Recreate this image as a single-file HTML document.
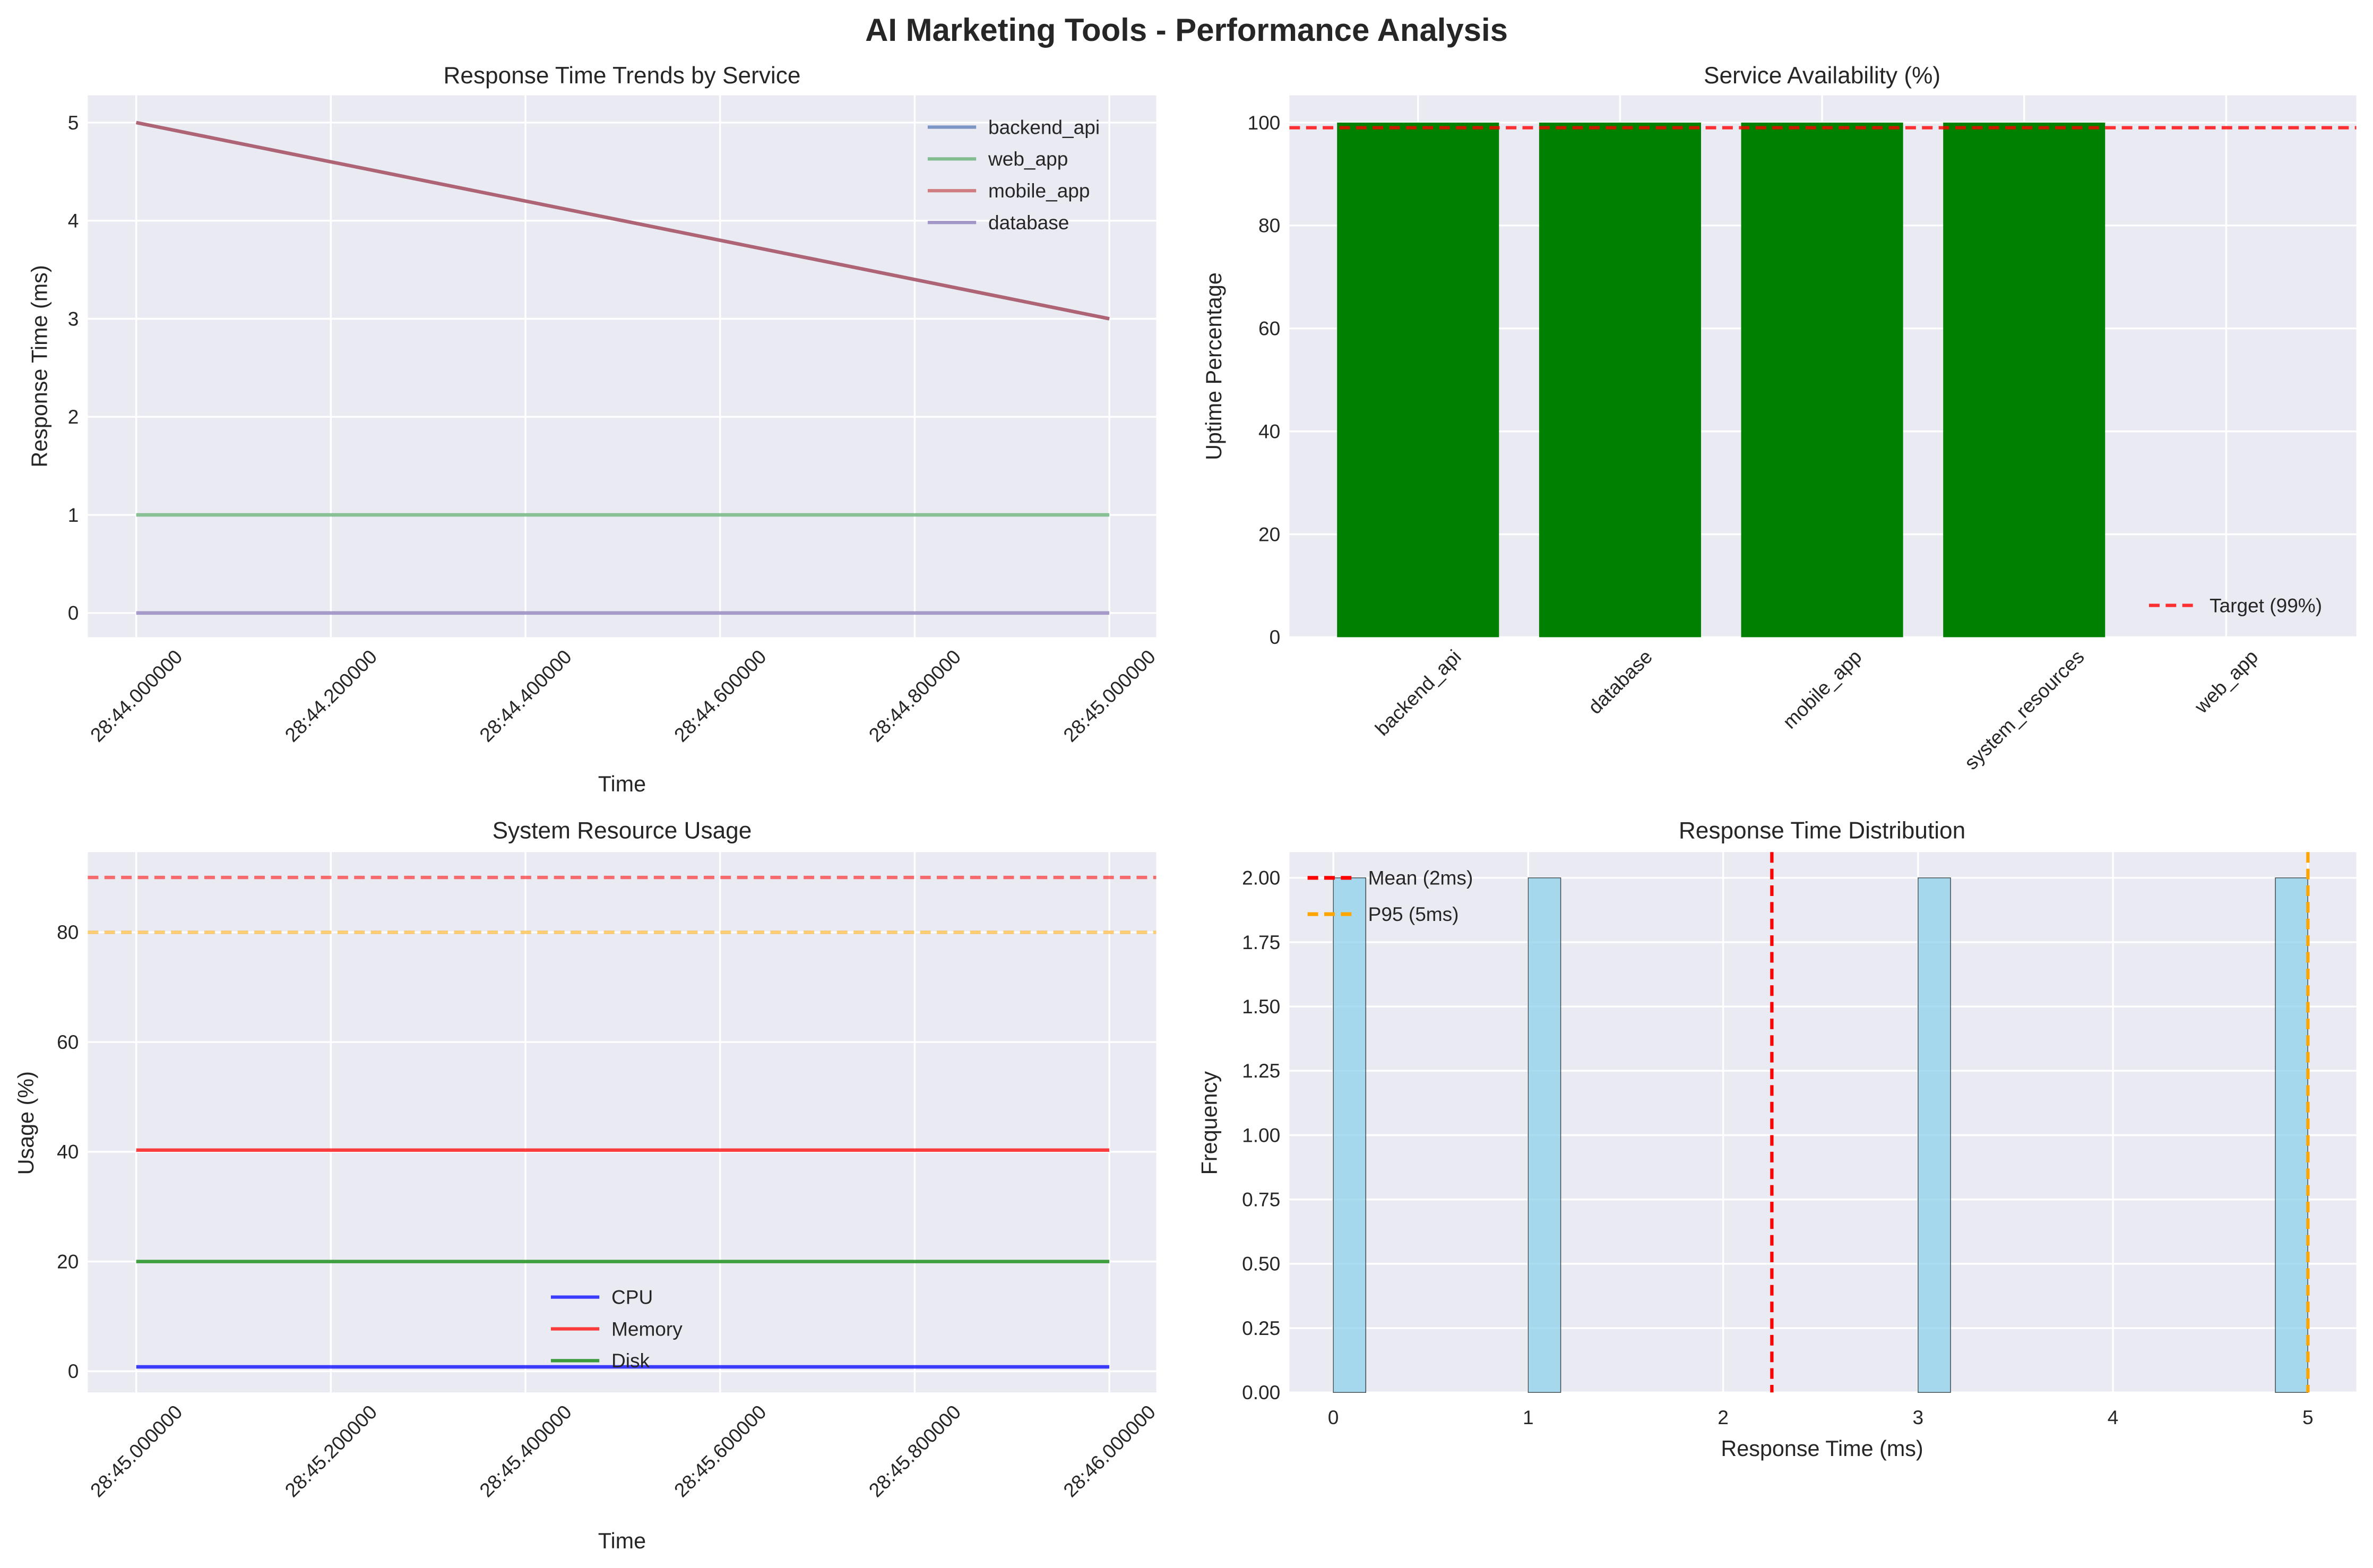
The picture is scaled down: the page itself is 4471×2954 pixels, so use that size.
<!DOCTYPE html>
<html><head><meta charset="utf-8"><style>
html,body{margin:0;padding:0;background:#fff;}
svg{display:block;font-family:"Liberation Sans",sans-serif;}
</style></head><body>
<svg id="fig" width="4471" height="2954" viewBox="0 0 1568 1036" xmlns="http://www.w3.org/2000/svg">
<text x="784" y="27" text-anchor="middle" font-size="21" font-weight="bold" fill="#262626">AI Marketing Tools - Performance Analysis</text>
</svg>
<script>
// ---- Panel 1 data
const p1TickLabels = ["28:44.000000","28:44.200000","28:44.400000","28:44.600000","28:44.800000","28:45.000000"];
const p1Times = [0, 1];
const p1Backend = [5, 3];
const p1Web = [1, 1];
const p1Mobile = [5, 3];
const p1Database = [0, 0];
const p1YTicks = [0,1,2,3,4,5];
// ---- Panel 2 data
const p2Categories = ["backend_api","database","mobile_app","system_resources","web_app"];
const p2Uptime = [100,100,100,100,0];
const p2Target = [99];
const p2YTicks = [0,20,40,60,80,100];
// ---- Panel 3 data
const p3TickLabels = ["28:45.000000","28:45.200000","28:45.400000","28:45.600000","28:45.800000","28:46.000000"];
const p3Times = [0, 1];
const p3Cpu = [0.8, 0.8];
const p3Memory = [40.3, 40.3];
const p3Disk = [20, 20];
const p3Thresholds = [90, 80];
const p3YTicks = [0,20,40,60,80];
// ---- Panel 4 data
const p4BinStarts = [0, 1, 3, 4.833];
const p4Counts = [2, 2, 2, 2];
const p4BinWidth = [0.1667];
const p4Mean = [2.25];
const p4P95 = [5];
const p4XTicks = [0,1,2,3,4,5];
const p4YTicks = [0,0.25,0.5,0.75,1,1.25,1.5,1.75,2];

const NS="http://www.w3.org/2000/svg";
const svg=document.getElementById('fig');
function mk(tag,attrs,parent,text){const e=document.createElementNS(NS,tag);for(const k in attrs)e.setAttribute(k,attrs[k]);if(text!==undefined)e.textContent=text;(parent||svg).appendChild(e);return e;}
function lin(d0,d1,r0,r1){return v=>r0+(v-d0)/(d1-d0)*(r1-r0);}
const TXT="#262626";

function axesBg(x0,y0,x1,y1,name){
  const g=mk('g',{});
  
  
  const r=mk('rect',{x:x0,y:y0,width:x1-x0,height:y1-y0,fill:"#eaeaf2"},g);
  
  
  return g;
}
function grid(g,x0,y0,x1,y1,xs,ys){
  xs.forEach(x=>{const l=mk('line',{x1:x,x2:x,y1:y0,y2:y1,stroke:"#fff","stroke-width":1.2},g);});
  ys.forEach(y=>{const l=mk('line',{x1:x0,x2:x1,y1:y,y2:y,stroke:"#fff","stroke-width":1.2},g);});
}
function ytick(g,x,y,label){const t=mk('text',{x:x,y:y+4.5,"text-anchor":"end","font-size":13,fill:TXT},g,label);}
function rotTick(g,x,y,label){
  const t=mk('text',{x:0,y:4.5,"text-anchor":"middle","font-size":13,fill:TXT},g,label);
  
  
  const w=t.getComputedTextLength();
  const half=(w*0.7071+13*0.7071)/2;
  t.setAttribute('transform',`translate(${x},${y+half}) rotate(-45)`);
}
function title(x,y,s){const t=mk('text',{x:x,y:y,"text-anchor":"middle","font-size":15.5,fill:TXT},svg,s);}
function xlabel(x,y,s){const t=mk('text',{x:x,y:y,"text-anchor":"middle","font-size":14.5,fill:TXT},svg,s);}
function ylabel(x,y,s){const t=mk('text',{x:0,y:0,"text-anchor":"middle","font-size":14.5,fill:TXT,transform:`translate(${x},${y}) rotate(-90)`},svg,s);}
function polyline(g,xs,ys,color,op,w,dash,name){const pts=xs.map((x,i)=>x+','+ys[i]).join(' ');const p=mk('polyline',{points:pts,fill:"none",stroke:color,"stroke-opacity":op,"stroke-width":w,"stroke-dasharray":dash||"none"},g);return p;}
function legendEntry(g,x,y,color,op,dash,label,w){const l=mk('line',{x1:x,x2:x+32,y1:y,y2:y,stroke:color,"stroke-opacity":op,"stroke-width":w||2.2,"stroke-dasharray":dash||"none"},g);const t=mk('text',{x:x+40,y:y+4.5,"font-size":13,fill:TXT},g,label);}

// ===== Panel 1
(function(){
  const x0=58,x1=764,y0=63,y1=421;
  const X=lin(0,1,90,733), Y=lin(0,5,405,81);
  const g=axesBg(x0,y0,x1,y1,'response-trend-axes');
  const tx=p1TickLabels.map((_,i)=>X(i/(p1TickLabels.length-1)));
  grid(g,x0,y0,x1,y1,tx,p1YTicks.map(Y));
  p1YTicks.forEach(v=>ytick(svg,x0-6,Y(v),String(v)));
  p1TickLabels.forEach((s,i)=>rotTick(svg,tx[i],y1+6,s));
  const xs=p1Times.map(X);
  polyline(g,xs,p1Backend.map(Y),"#4c72b0",0.7,2.3,null,'line-backend-api');
  polyline(g,xs,p1Web.map(Y),"#55a868",0.7,2.3,null,'line-web-app');
  polyline(g,xs,p1Mobile.map(Y),"#c44e52",0.7,2.3,null,'line-mobile-app');
  polyline(g,xs,p1Database.map(Y),"#8172b3",0.7,2.3,null,'line-database');
  const lg=mk('g',{});
  legendEntry(lg,613,84,"#4c72b0",0.7,null,"backend_api");
  legendEntry(lg,613,105,"#55a868",0.7,null,"web_app");
  legendEntry(lg,613,126,"#c44e52",0.7,null,"mobile_app");
  legendEntry(lg,613,147,"#8172b3",0.7,null,"database");
  title(411,55,"Response Time Trends by Service");
  xlabel(411,523,"Time");
  ylabel(31,242,"Response Time (ms)");
})();

// ===== Panel 2
(function(){
  const x0=852,x1=1557,y0=63,y1=421;
  const Y=lin(0,100,421,81);
  const X=i=>937+i*133.5, bw=107;
  const g=axesBg(x0,y0,x1,y1,'availability-axes');
  grid(g,x0,y0,x1,y1,p2Categories.map((_,i)=>X(i)),p2YTicks.map(Y));
  p2YTicks.forEach(v=>ytick(svg,x0-6,Y(v),String(v)));
  p2Categories.forEach((c,i)=>{
    const v=p2Uptime[i];
    const r=mk('rect',{x:X(i)-bw/2,y:Y(v),width:bw,height:Y(0)-Y(v),fill:"#008000"},g);
    
    
    rotTick(svg,X(i),y1+6,c);
  });
  polyline(g,[x0,x1],[Y(p2Target[0]),Y(p2Target[0])],"#ff0000",0.8,2.2,"7,4",'target-line');
  const lg=mk('g',{});
  legendEntry(lg,1420,400,"#ff0000",0.8,"7,4","Target (99%)");
  title(1204,55,"Service Availability (%)");
  ylabel(807,242,"Uptime Percentage");
})();

// ===== Panel 3
(function(){
  const x0=58,x1=764,y0=563,y1=920;
  const X=lin(0,1,90,733), Y=lin(0,80,906,616);
  const g=axesBg(x0,y0,x1,y1,'resource-usage-axes');
  const tx=p3TickLabels.map((_,i)=>X(i/(p3TickLabels.length-1)));
  grid(g,x0,y0,x1,y1,tx,p3YTicks.map(Y));
  p3YTicks.forEach(v=>ytick(svg,x0-6,Y(v),String(v)));
  p3TickLabels.forEach((s,i)=>rotTick(svg,tx[i],y1+6,s));
  const xs=p3Times.map(X);
  polyline(g,xs,p3Cpu.map(Y),"#0000ff",0.75,2.3,null,'line-cpu');
  polyline(g,xs,p3Memory.map(Y),"#ff0000",0.75,2.3,null,'line-memory');
  polyline(g,xs,p3Disk.map(Y),"#008000",0.75,2.3,null,'line-disk');
  polyline(g,[x0,x1],[Y(p3Thresholds[0]),Y(p3Thresholds[0])],"#ff0000",0.55,2.2,"7,4",'threshold-critical');
  polyline(g,[x0,x1],[Y(p3Thresholds[1]),Y(p3Thresholds[1])],"#ffa500",0.55,2.2,"7,4",'threshold-warning');
  const lg=mk('g',{});
  legendEntry(lg,364,857,"#0000ff",0.75,null,"CPU");
  legendEntry(lg,364,878,"#ff0000",0.75,null,"Memory");
  legendEntry(lg,364,899,"#008000",0.75,null,"Disk");
  title(411,554,"System Resource Usage");
  xlabel(411,1023,"Time");
  ylabel(22,742,"Usage (%)");
})();

// ===== Panel 4
(function(){
  const x0=852,x1=1557,y0=563,y1=920;
  const X=lin(0,5,881,1525), Y=lin(0,2,920,580);
  const g=axesBg(x0,y0,x1,y1,'distribution-axes');
  grid(g,x0,y0,x1,y1,p4XTicks.map(X),p4YTicks.map(Y));
  p4YTicks.forEach(v=>ytick(svg,x0-6,Y(v),v.toFixed(2)));
  p4XTicks.forEach(v=>{const t=mk('text',{x:X(v),y:y1+21,"text-anchor":"middle","font-size":13,fill:TXT},svg,String(v));});
  p4BinStarts.forEach((b,i)=>{
    const r=mk('rect',{x:X(b),y:Y(p4Counts[i]),width:X(b+p4BinWidth[0])-X(b),height:Y(0)-Y(p4Counts[i]),fill:"#87ceeb","fill-opacity":0.7,stroke:"#000","stroke-width":0.5,"stroke-opacity":0.7},g);
    
    
  });
  polyline(g,[X(p4Mean[0]),X(p4Mean[0])],[y0,y1],"#ff0000",1,2.2,"7,4",'mean-line');
  polyline(g,[X(p4P95[0]),X(p4P95[0])],[y0,y1],"#ffa500",1,2.2,"7,4",'p95-line');
  const lg=mk('g',{});
  legendEntry(lg,864,580,"#ff0000",1,"7,4","Mean (2ms)",2.5);
  legendEntry(lg,864,604,"#ffa500",1,"7,4","P95 (5ms)",2.5);
  title(1204,554,"Response Time Distribution");
  xlabel(1204,962,"Response Time (ms)");
  ylabel(804,742,"Frequency");
})();
</script>
</body></html>
